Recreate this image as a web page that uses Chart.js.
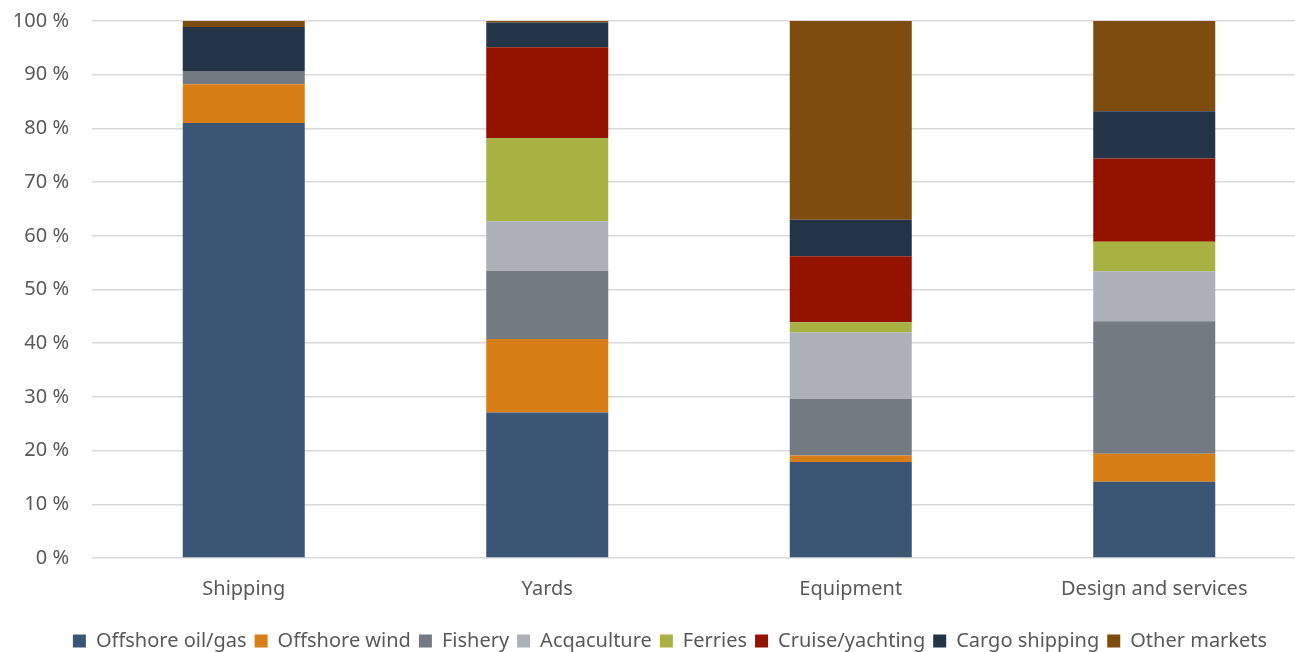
<!DOCTYPE html>
<html>
<head>
<meta charset="utf-8">
<script src="https://cdn.jsdelivr.net/npm/chart.js@4/dist/chart.umd.min.js"></script>
<style>
  html, body { margin: 0; padding: 0; overflow: hidden; background: #ffffff; }
  #wrap { position: relative; width: 1295px; height: 652px; overflow: hidden; }
  #c { position: absolute; left: 0; top: -14px; }
</style>
</head>
<body>
<div id="wrap"><canvas id="c" width="1310" height="675"></canvas></div>
<script>
// Market segments per business area (share of turnover, %)
const categories = ['Shipping', 'Yards', 'Equipment', 'Design and services'];

const offshoreOilGas = [81.0, 27.1, 17.9, 14.2];
const offshoreWind   = [7.2, 13.7, 1.2, 5.2];
const fishery        = [2.5, 12.7, 10.5, 24.7];
const acqaculture    = [0.0, 9.2, 12.4, 9.3];
const ferries        = [0.0, 15.5, 1.9, 5.5];
const cruiseYachting = [0.0, 16.9, 12.3, 15.5];
const cargoShipping  = [8.2, 4.6, 6.8, 8.8];
const otherMarkets   = [1.1, 0.3, 37.0, 16.8];

const yTicks = [0, 10, 20, 30, 40, 50, 60, 70, 80, 90, 100];

const seriesDefs = [
  ['Offshore oil/gas', offshoreOilGas, '#3a5674'],
  ['Offshore wind', offshoreWind, '#d77e16'],
  ['Fishery', fishery, '#737a81'],
  ['Acqaculture', acqaculture, '#abb1b7'],
  ['Ferries', ferries, '#a8b242'],
  ['Cruise/yachting', cruiseYachting, '#941200'],
  ['Cargo shipping', cargoShipping, '#233447'],
  ['Other markets', otherMarkets, '#7f4c0f']
];

const textColor = '#595959';
const fontFamily = '"Noto Sans", "Open Sans", sans-serif';

// Nudge the legend row to the right so it sits under the plot centre
const legendShift = {
  id: 'legendShift',
  afterLayout(chart) {
    if (chart.legend) {
      chart.legend.left += 17;
      chart.legend.right += 17;
    }
  }
};

new Chart(document.getElementById('c'), {
  type: 'bar',
  data: {
    labels: categories,
    datasets: seriesDefs.map(([label, data, color]) => ({
      label, data,
      backgroundColor: color,
      borderWidth: 0,
      categoryPercentage: 1.0,
      barPercentage: 0.402
    }))
  },
  plugins: [legendShift],
  options: {
    responsive: false,
    animation: false,
    devicePixelRatio: 1,
    layout: { padding: { left: 0, right: 4, top: 0, bottom: 0 } },
    plugins: {
      tooltip: { enabled: false },
      legend: {
        position: 'bottom',
        labels: {
          color: textColor,
          font: { family: fontFamily, size: 20 },
          boxWidth: 13,
          boxHeight: 13,
          padding: 8
        }
      }
    },
    scales: {
      x: {
        stacked: true,
        grid: { display: false },
        border: { display: false },
        afterFit: (scale) => { scale.height += 11; },
        ticks: {
          color: textColor,
          font: { family: fontFamily, size: 20 },
          padding: 11
        }
      },
      y: {
        stacked: true,
        min: 0,
        max: 100,
        afterBuildTicks: (scale) => { scale.ticks = yTicks.map(v => ({ value: v })); },
        afterFit: (scale) => { scale.width = 92; },
        grid: { color: '#d9d9d9', lineWidth: 1.5, drawTicks: false },
        border: { display: false },
        ticks: {
          color: textColor,
          font: { family: fontFamily, size: 20 },
          padding: 23,
          callback: (v) => v + ' %'
        }
      }
    }
  }
});
</script>
</body>
</html>
